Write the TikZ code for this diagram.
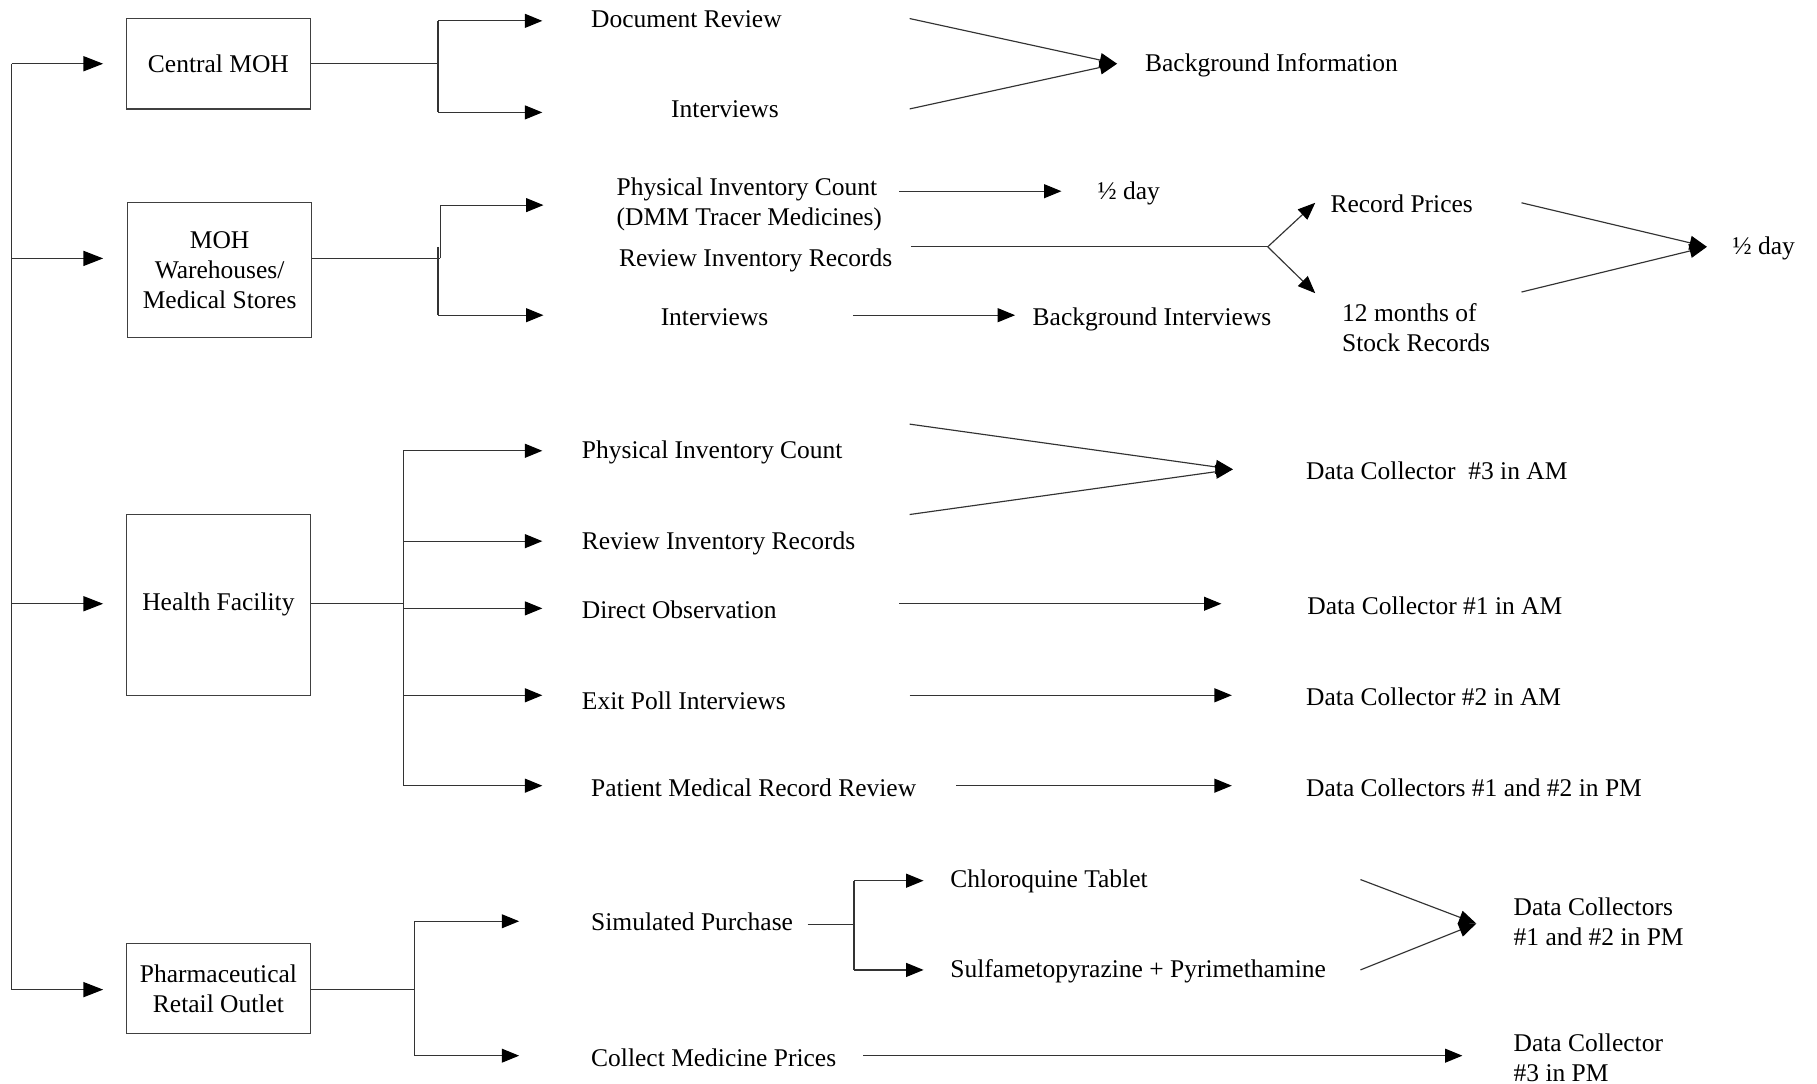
\documentclass[tikz,border=0pt]{standalone}
\usepackage{fontspec}
\setmainfont{Liberation Serif}
\usetikzlibrary{arrows.meta}
\begin{document}
\begin{tikzpicture}[x=1pt,y=-1pt,
  every node/.style={font=\fontsize{22}{26}\selectfont, inner sep=0pt},
  box/.style={draw=black!75, line width=1pt, minimum width=159pt, align=center},
  lbl/.style={anchor=west, align=left, yshift=-1.5pt},
  ln/.style={draw=black!80, line width=1pt},
  arr/.style={ln, -{Triangle[length=15pt,width=12pt,fill=black,color=black]}},
  bigarr/.style={ln, -{Triangle[length=17pt,width=13pt,fill=black,color=black]}},
]
\useasboundingbox (0,0) rectangle (1568,935);

% ---------- boxes ----------
\node[box, minimum height=78pt]  (cmoh) at (188.5,55)  {Central MOH};
\node[box, minimum height=116pt] (whs)  at (189.5,233) {MOH\\Warehouses/\\Medical Stores};
\node[box, minimum height=156pt] (hf)   at (188.5,522) {Health Facility};
\node[box, minimum height=78pt]  (pro)  at (188.5,853) {Pharmaceutical\\Retail Outlet};

% ---------- spine ----------
\coordinate (s1) at (10,55);
\coordinate (s2) at (10,223);
\coordinate (s3) at (10,521);
\coordinate (s4) at (10,854);
\draw[ln] (s1) -- (s4);
\draw[bigarr] (s1) -- (89,55);
\draw[bigarr] (s2) -- (89,223);
\draw[bigarr] (s3) -- (89,521);
\draw[bigarr] (s4) -- (89,854);

% ---------- Central MOH ----------
\draw[ln] (cmoh.east) -- (378,55);
\draw[ln] (378,18) -- (378,97);
\draw[arr] (378,18) -- (468,18);
\draw[arr] (378,97) -- (468,97);
\node[lbl] (docrev) at (510,15) {Document Review};
\node[lbl] (int1)   at (579,93) {Interviews};
\coordinate (bgtip) at (964,55);
\draw[arr] (785,16) -- (bgtip);
\draw[arr] (785,94) -- (bgtip);
\node[lbl] (bginfo) at (988,55) {Background Information};

% ---------- Warehouses ----------
\draw[ln] (269,223) -- (380,223);
\draw[ln] (380,223) -- (380,177);
\draw[ln] (378,213) -- (378,272);
\draw[arr] (380,177) -- (469,177);
\draw[arr] (378,272) -- (469,272);
\node[lbl] (pic1) at (532,174.5) {Physical Inventory Count\\(DMM Tracer Medicines)};
\draw[arr] (776,165) -- (916,165);
\node[lbl] (half1) at (947,165) {½ day};
\node[lbl] (rir1) at (534,223) {Review Inventory Records};
\coordinate (fork) at (1094,213);
\draw[ln] (786,213) -- (fork);
\draw[arr] (fork) -- (1135,175);
\draw[arr] (fork) -- (1135,253);
\node[lbl] (recp) at (1148,174) {Record Prices};
\node[lbl] (stock) at (1158,281) {12 months of\\Stock Records};
\coordinate (halftip) at (1473,213);
\draw[arr] (1313,175) -- (halftip);
\draw[arr] (1313,252) -- (halftip);
\node[lbl] (half2) at (1495,213) {½ day};
\node[lbl] (int2) at (570,272) {Interviews};
\draw[arr] (736,272) -- (876,272);
\node[lbl] (bgint) at (891,274) {Background Interviews};

% ---------- Health Facility ----------
\draw[ln] (268,521) -- (348,521);
\draw[ln] (348,389) -- (348,678);
\draw[arr] (348,389) -- (468,389);
\draw[arr] (348,467) -- (468,467);
\draw[arr] (348,525) -- (468,525);
\draw[arr] (348,600) -- (468,600);
\draw[arr] (348,678) -- (468,678);
\node[lbl] (pic2) at (502,389) {Physical Inventory Count};
\node[lbl] (rir2) at (502,467) {Review Inventory Records};
\node[lbl] (dobs) at (502,525) {Direct Observation};
\node[lbl] (exit) at (502,603) {Exit Poll Interviews};
\node[lbl] (pmr)  at (510,678) {Patient Medical Record Review};
\coordinate (dc3tip) at (1064,405);
\draw[arr] (785,366) -- (dc3tip);
\draw[arr] (785,444) -- (dc3tip);
\node[lbl] (dc3) at (1127,405) {Data Collector~~\#3 in AM};
\draw[arr] (776,521) -- (1054,521);
\node[lbl] (dc1) at (1128,521) {Data Collector \#1 in AM};
\draw[arr] (785,600) -- (1063,600);
\node[lbl] (dc2) at (1127,600) {Data Collector \#2 in AM};
\draw[arr] (825,678) -- (1063,678);
\node[lbl] (dc12) at (1127,678) {Data Collectors \#1 and \#2 in PM};

% ---------- Pharmaceutical Retail Outlet ----------
\draw[ln] (268,854) -- (358,854);
\draw[ln] (358,795) -- (358,911);
\draw[arr] (358,795) -- (448,795);
\draw[arr] (358,911) -- (448,911);
\node[lbl] (sim) at (510,794) {Simulated Purchase};
\draw[ln] (697,798) -- (737,798);
\draw[ln] (737,760) -- (737,837);
\draw[arr] (737,760) -- (797,760);
\draw[arr] (737,837) -- (797,837);
\node[lbl] (chl) at (820,759) {Chloroquine Tablet};
\node[lbl] (sul) at (820,837) {Sulfametopyrazine + Pyrimethamine};
\coordinate (dcptip) at (1274,797);
\draw[arr] (1174,759) -- (dcptip);
\draw[arr] (1174,837) -- (dcptip);
\node[lbl] (dcpm) at (1306,794) {Data Collectors\\\#1 and \#2 in PM};
\node[lbl] (cmp) at (510,911) {Collect Medicine Prices};
\draw[arr] (745,911) -- (1262,911);
\node[lbl] (dc3pm) at (1306,911) {Data Collector\\\#3 in PM};
\end{tikzpicture}
\end{document}
